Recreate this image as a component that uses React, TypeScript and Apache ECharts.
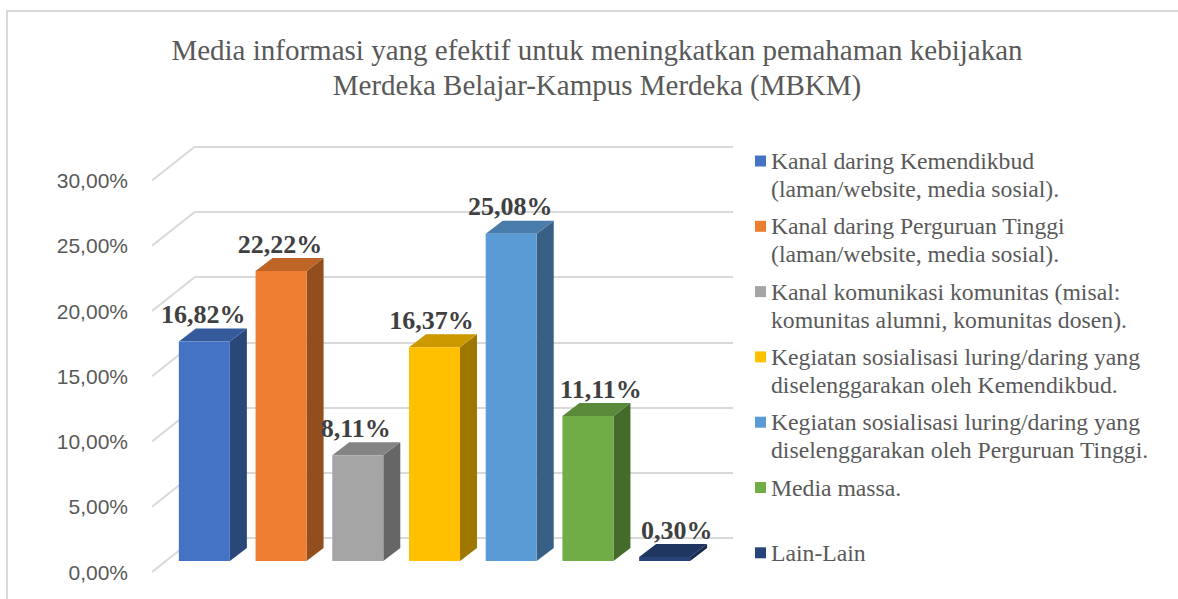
import React, { useEffect, useRef } from "react";
import * as echarts from "echarts";

const titleLines = [
  "Media informasi yang efektif untuk meningkatkan pemahaman kebijakan",
  "Merdeka Belajar-Kampus Merdeka (MBKM)",
];
const categories = [
  "Kanal daring Kemendikbud\n(laman/website, media sosial).",
  "Kanal daring Perguruan Tinggi\n(laman/website, media sosial).",
  "Kanal komunikasi komunitas (misal:\nkomunitas alumni, komunitas dosen).",
  "Kegiatan sosialisasi luring/daring yang\ndiselenggarakan oleh Kemendikbud.",
  "Kegiatan sosialisasi luring/daring yang\ndiselenggarakan oleh Perguruan Tinggi.",
  "Media massa.",
  "Lain-Lain",
];
const values = [16.82, 22.22, 8.11, 16.37, 25.08, 11.11, 0.3];
const colors = ["#4472C4", "#ED7D31", "#A5A5A5", "#FFC000", "#5B9BD5", "#70AD47", "#264478"];
const yTicks = [0, 5, 10, 15, 20, 25, 30];
// horizontal nudges of the data labels (px), as placed in the original
const labelShift = [-1, -1, -2, -3, -1, 13, 12];

const SERIF = "'Liberation Serif', 'Times New Roman', serif";
const SANS = "'Liberation Sans', Arial, sans-serif";
const GRID_COLOR = "#d9d9d9";
const DX = 17; // bar depth offset
const DY = -13;
const WALL_DX = 43; // floor depth
const WALL_DY = -34;

function shade(hex: string, f: number): string {
  const n = parseInt(hex.slice(1), 16);
  const r = Math.round(((n >> 16) & 255) * f);
  const g = Math.round(((n >> 8) & 255) * f);
  const b = Math.round((n & 255) * f);
  return `rgb(${r},${g},${b})`;
}
const pct = (v: number) => v.toFixed(2).replace(".", ",") + "%";

export default function App() {
  const ref = useRef<HTMLDivElement>(null);
  useEffect(() => {
    if (!ref.current) return;
    const chart = echarts.init(ref.current, null, { renderer: "svg" });

    const legendGraphics: any[] = [];
    categories.forEach((name, i) => {
      const cy = 161 + i * 65.3;
      legendGraphics.push({
        type: "rect",
        shape: { x: 755, y: cy - 5.5, width: 11, height: 11 },
        style: { fill: colors[i] },
      });
      legendGraphics.push({
        type: "text",
        x: 771,
        y: cy - 14,
        style: {
          text: name,
          fontFamily: SERIF,
          fontSize: 23.7,
          lineHeight: 28,
          fill: "#595959",
          align: "left",
          verticalAlign: "top",
        },
      });
    });

    const option: any = {
      animation: false,
      backgroundColor: "#ffffff",
      title: {
        text: titleLines.join("\n"),
        left: 597,
        top: 32,
        padding: 0,
        textAlign: "center",
        textStyle: {
          fontFamily: SERIF,
          fontSize: 29,
          fontWeight: "normal",
          color: "#595959",
          lineHeight: 35,
        },
      },
      grid: [
        { left: 152, right: 489, top: 180.5, bottom: 27 }, // floor front edge
        { left: 166, right: 475, top: 169.5, bottom: 38 }, // bar front plane
        { left: 195, right: 445, top: 146.5, bottom: 61 }, // back wall
      ],
      xAxis: [
        { gridIndex: 0, type: "value", min: 0, max: 1, show: false },
        { gridIndex: 1, type: "category", data: categories, show: false },
        { gridIndex: 2, type: "value", min: 0, max: 1, show: false },
      ],
      yAxis: [
        {
          gridIndex: 0,
          type: "value",
          min: 0,
          max: 30,
          interval: 5,
          axisLine: { show: false },
          axisTick: { show: false },
          splitLine: { show: false },
          axisLabel: {
            formatter: (v: number) => pct(v),
            color: "#595959",
            fontFamily: SANS,
            fontSize: 21,
            margin: 24,
          },
        },
        { gridIndex: 1, type: "value", min: 0, max: 30, interval: 5, show: false },
        {
          gridIndex: 2,
          type: "value",
          min: 0,
          max: 30,
          interval: 5,
          axisLine: { show: false },
          axisTick: { show: false },
          axisLabel: { show: false },
          splitLine: { show: true, lineStyle: { color: GRID_COLOR, width: 2 } },
        },
      ],
      series: [
        {
          type: "custom",
          name: "wall-diagonals",
          xAxisIndex: 0,
          yAxisIndex: 0,
          silent: true,
          z: 1,
          data: yTicks.map((t) => [0, t]),
          renderItem: (_p: any, api: any) => {
            const p = api.coord([0, api.value(1)]);
            return {
              type: "line",
              shape: { x1: p[0], y1: p[1], x2: p[0] + WALL_DX, y2: p[1] + WALL_DY },
              style: { stroke: GRID_COLOR, lineWidth: 2 },
            };
          },
        },
        {
          type: "custom",
          name: "bars",
          xAxisIndex: 1,
          yAxisIndex: 1,
          z: 5,
          data: values.map((v, i) => [i, v]),
          renderItem: (_p: any, api: any) => {
            const i = api.value(0);
            const v = api.value(1);
            const base = api.coord([i, 0]);
            const top = api.coord([i, v]);
            const w = api.size([1, 0])[0] * 0.665;
            const x0 = base[0] - w / 2;
            const x1 = x0 + w;
            const c = colors[i];
            return {
              type: "group",
              children: [
                {
                  type: "polygon",
                  shape: {
                    points: [
                      [x1, top[1]],
                      [x1 + DX, top[1] + DY],
                      [x1 + DX, base[1] + DY],
                      [x1, base[1]],
                    ],
                  },
                  style: { fill: shade(c, 0.62) },
                },
                {
                  type: "polygon",
                  shape: {
                    points: [
                      [x0, top[1]],
                      [x0 + DX, top[1] + DY],
                      [x1 + DX, top[1] + DY],
                      [x1, top[1]],
                    ],
                  },
                  style: { fill: shade(c, 0.8) },
                },
                {
                  type: "rect",
                  shape: { x: x0, y: top[1], width: w, height: base[1] - top[1] },
                  style: { fill: c },
                },
                {
                  type: "text",
                  x: base[0] + labelShift[i],
                  y: top[1] + DY - 1,
                  style: {
                    text: pct(v),
                    fontFamily: SERIF,
                    fontWeight: "bold",
                    fontSize: 26,
                    fill: "#404040",
                    align: "center",
                    verticalAlign: "bottom",
                  },
                },
              ],
            };
          },
        },
      ],
      graphic: [
        {
          type: "rect",
          z: -10,
          silent: true,
          shape: { x: 7, y: 11, width: 1200, height: 700 },
          style: { fill: "none", stroke: GRID_COLOR, lineWidth: 2 },
        },
        ...legendGraphics,
      ],
    };
    chart.setOption(option);
    return () => chart.dispose();
  }, []);
  return (
    <div
      ref={ref}
      style={{ position: "absolute", left: 0, top: 0, width: 1178, height: 599 }}
    />
  );
}
